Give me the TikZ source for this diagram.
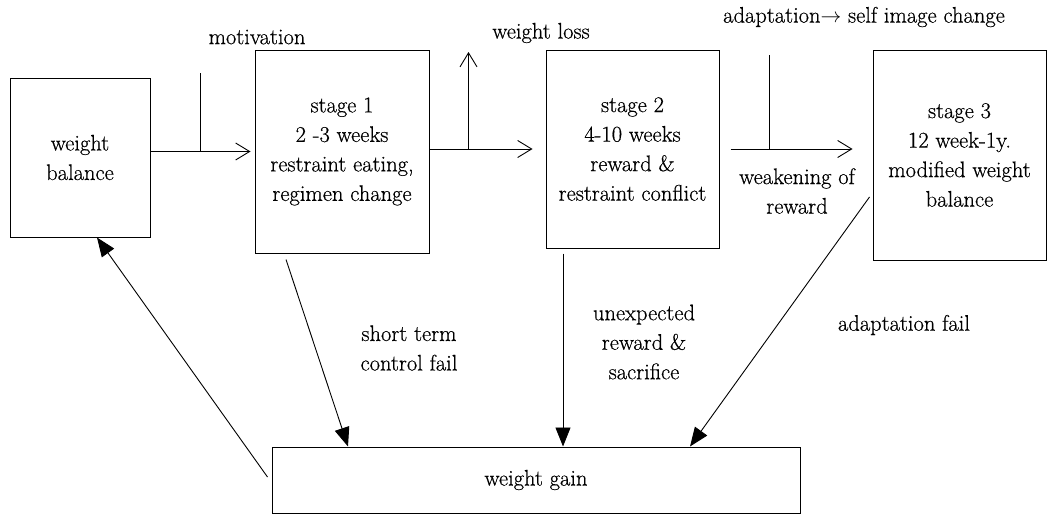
\documentclass[tikz,border=0pt]{standalone}
\usepackage{amsmath}
\usepackage{fontspec}
\setmainfont{Latin Modern Roman}[FakeBold=0.5]
\usepackage{tikz}
\usetikzlibrary{arrows.meta}

\begin{document}
\begin{tikzpicture}
		[x=1pt, y=-1pt, line width=0.9pt,
		every node/.style={font=\fontsize{22.5}{29.5}\selectfont, align=center},
		box/.style={draw, line width=1pt, inner sep=0pt},
		barb/.style={-{Straight Barb[length=14pt, width=17pt]}},
		head/.style={-{Triangle[length=19pt, width=15pt]}}]
		\useasboundingbox (0,0) rectangle (1048,514);
		% boxes
		\node[box, minimum width=140pt, minimum height=159pt] (wb) at (80,157.5) {weight\\balance};
		\node[box, minimum width=174pt, minimum height=203pt] (s1) at (342,151.5) {stage 1\\2 -3 weeks\\restraint eating,\\regimen change};
		\node[box, minimum width=173pt, minimum height=198pt] (s2) at (632.5,149) {stage 2\\4-10 weeks\\reward \&\\restraint conflict};
		\node[box, minimum width=173pt, minimum height=210pt] (s3) at (959.5,155) {stage 3\\12 week-1y.\\modified weight\\balance};
		\node[box, minimum width=528pt, minimum height=66pt] (wg) at (536,480) {weight gain};
		% labels
		\node (mot) at (257,37) {motivation};
		\node (loss) at (541,33) {weight loss};
		\node (adapt) at (864,17) {adaptation$\rightarrow$ self image change};
		\node (weak) at (797,191) {weakening of\\reward};
		\node (short) at (409,348) {short term\\control fail};
		\node (unexp) at (644,342) {unexpected\\reward \&\\sacrifice};
		\node (afail) at (904,325) {adaptation fail};
		\coordinate (m1) at (200,73);
		\coordinate (a1) at (769,55);
		% forward path
		\draw[barb, shorten >=4pt] (wb.east |- s1.west) -- (s1.west);
		\draw (m1) -- (m1 |- s1.west);
		\draw[barb, shorten >=13pt] (s1.east |- s2.west) -- (s2.west);
		\draw[barb] ([xshift=39pt]s1.east |- s2.west) -- ([xshift=39pt, yshift=97pt]s1.east |- s2.west);
		\draw[barb, shorten <=11pt, shorten >=20pt] (s2.east) -- (s2.east -| s3.west);
		\draw (a1) -- (a1 |- s2.east);
		% failures
		\draw[head] ([xshift=-56pt, yshift=-6pt]s1.south) -- ([xshift=-188pt]wg.north);
		\draw[head] ([xshift=-69.5pt, yshift=-5pt]s2.south) -- ([xshift=27pt]wg.north);
		\draw[head] ([xshift=-3pt, yshift=-42pt]s3.west) -- ([xshift=154pt]wg.north);
		\draw[head] ([xshift=-4pt, yshift=3pt]wg.west) -- ([xshift=17pt]wb.south);
	\end{tikzpicture}
\end{document}
